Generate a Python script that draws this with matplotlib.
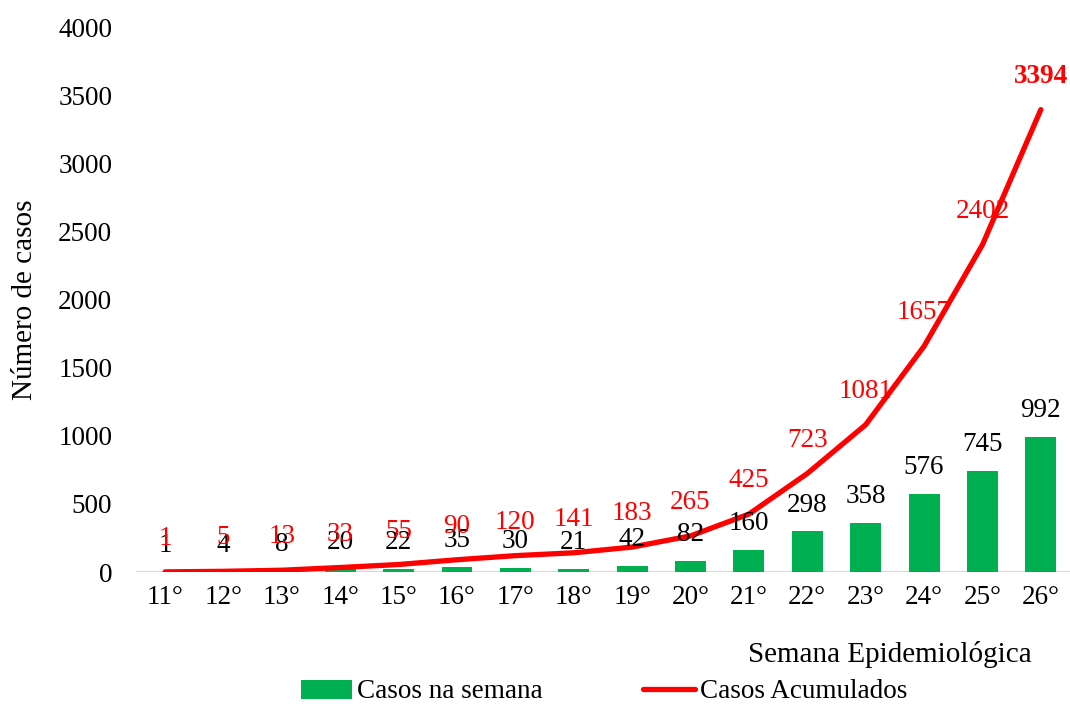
import matplotlib.pyplot as plt
import numpy as np

plt.rcParams['font.family'] = ['Liberation Serif', 'DejaVu Serif']

semanas = ["11°", "12°", "13°", "14°", "15°", "16°", "17°", "18°",
           "19°", "20°", "21°", "22°", "23°", "24°", "25°", "26°"]
casos_semana = [1, 4, 8, 20, 22, 35, 30, 21, 42, 82, 160, 298, 358, 576, 745, 992]
casos_acumulados = [1, 5, 13, 33, 55, 90, 120, 141, 183, 265, 425, 723, 1081, 1657, 2402, 3394]

green = "#00b050"
red = "#ff0000"

fig = plt.figure(figsize=(10.7, 7.04), dpi=100)
ax = fig.add_axes([0.127, 0.1875, 0.873, 0.774])

x = np.arange(len(semanas))
bars = ax.bar(x, casos_semana, width=0.53, color=green, label="Casos na semana", zorder=2)
line, = ax.plot(x, casos_acumulados, color=red, linewidth=3.8, solid_capstyle='round',
                label="Casos Acumulados", zorder=3)

# valores das barras (preto) e acumulados (vermelho)
for xi, v in zip(x, casos_semana):
    ax.annotate(str(v), (xi, v), xytext=(0, 19), textcoords='offset points',
                ha='center', va='center', fontsize=19.5, color='black', zorder=4)

for i, (xi, v) in enumerate(zip(x, casos_acumulados)):
    last = i == len(x) - 1
    ax.annotate(str(v), (xi, v), xytext=(0, 24), textcoords='offset points',
                ha='center', va='center', fontsize=19.5, color=red,
                fontweight='bold' if last else 'normal', zorder=4)

ax.set_ylim(0, 4000)
ax.set_xlim(-0.5, len(x) - 0.5)
ax.set_yticks(range(0, 4001, 500))
ax.set_xticks(x)
ax.set_xticklabels(semanas)
ax.tick_params(axis='both', length=0, labelsize=19.5)
ax.tick_params(axis='y', pad=17)
ax.tick_params(axis='x', pad=9)
for s in ax.spines.values():
    s.set_visible(False)
ax.axhline(0, color='#d9d9d9', linewidth=1.5, zorder=1)

ax.set_ylabel("Número de casos", fontsize=21)
ax.yaxis.set_label_coords(-0.105, 0.5)
fig.text(0.9645, 1 - 655 / 704, "Semana Epidemiológica", ha='right', va='center', fontsize=21)

fig.legend(handles=[bars, line], loc='center', bbox_to_anchor=(0.5645, 1 - 692 / 704),
           ncol=2, frameon=False, fontsize=19.5, columnspacing=3.7, handlelength=1.9,
           handletextpad=0.2)

plt.savefig("out.png", dpi=100)
